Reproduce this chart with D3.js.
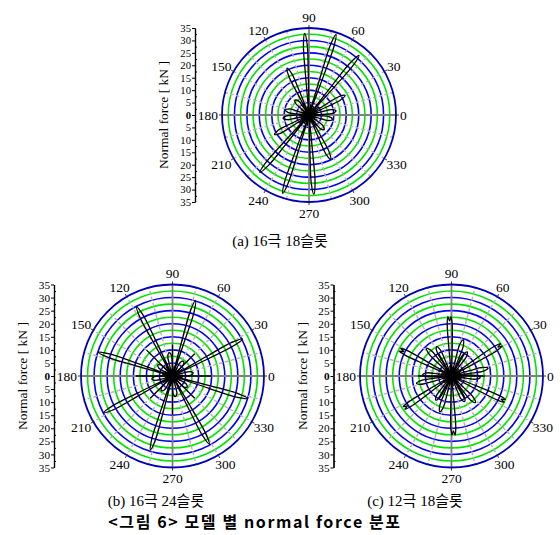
<!DOCTYPE html>
<html>
<head>
<meta charset="utf-8">
<script src="https://cdn.jsdelivr.net/npm/d3@7"></script>
<style>
body { margin: 0; background: #fff; }
svg { display: block; }
</style>
</head>
<body>
<svg id="chart" width="560" height="535"></svg>
<script>
// grid and tick values
var ringVals = [2.5, 5, 7.5, 10, 12.5, 15, 17.5, 20, 22.5, 25, 27.5, 30, 32.5, 35];
var majorTicks = [0, 5, 10, 15, 20, 25, 30, 35];
var minorTicks = [2.5, 7.5, 12.5, 17.5, 22.5, 27.5, 32.5];
var angleTicks = [0, 30, 60, 90, 120, 150, 180, 210, 240, 270, 300, 330];

// (a) 16극 18슬롯 : lobe angle [deg], normal force [kN]
var lobeAngA = [8.5, 28.5, 50, 71.5, 93, 115, 133, 168, 187, 209.5, 229.5, 251.5, 273.5, 296, 316, 349.5];
var lobeValA = [11, 16.5, 31.3, 34.2, 32.9, 20.8, 8.2, 9.7, 10.5, 15.9, 30.4, 33.3, 32, 19.8, 8.4, 9.6];
var hubAngA = [0, 15, 40, 60, 80, 100, 125, 145, 160, 180, 195, 220, 240, 260, 285, 305, 325, 340];
var hubValA = [4, 3.5, 5, 4, 4.5, 3.5, 5, 4, 3.5, 4, 3.5, 5, 4, 4.5, 3.5, 5, 4, 3.5];

// (b) 16극 24슬롯
var lobeAngB = [27.9, 73, 117.4, 162.3, 208.1, 253.4, 298.4, 343.4];
var lobeValB = [30.3, 30.1, 29.9, 29.8, 29.8, 29.5, 29.6, 29.9];
var smallAngB = [8, 53, 98, 143, 188, 233, 278, 323];
var smallValB = [8, 7, 9, 7, 8, 7, 8, 7];
var spikeAngB = [0, 45, 90, 135, 180, 225, 270, 315];
var spikeValB = [15, 12, 12, 14, 14, 12, 15, 12];
var hubAngB = [5, 20, 35, 60, 80, 105, 125, 150, 170, 195, 215, 240, 260, 285, 300, 330, 350];
var hubValB = [4, 3, 4.5, 3.5, 4, 3, 4.5, 3.5, 4, 3, 4.5, 3.5, 4, 3, 4.5, 3.5, 4];

// (c) 12극 18슬롯
var lobeAngC = [32, 92, 153, 214, 272, 335];
var lobeValC = [22.5, 22.7, 22.1, 21.9, 22.6, 22.5];
var midAngC = [12, 72, 132, 192, 252, 312];
var midValC = [14.3, 14.5, 14.3, 13.7, 14.4, 13.7];
var mid2AngC = [57, 117, 177, 237, 297, 357];
var mid2ValC = [11, 12.6, 11, 11, 11, 11];
var spikeAngC = [0, 60, 120, 180, 240, 300];
var spikeValC = [12.7, 10, 10, 12.8, 10, 10];
var hubAngC = [10, 25, 45, 85, 100, 140, 165, 200, 220, 260, 280, 320, 345];
var hubValC = [4, 3.5, 4, 3.5, 4, 3.5, 4, 3.5, 4, 3.5, 4, 3.5, 4];

var serif = "'Liberation Serif', 'Times New Roman', serif";
var krSerif = "'Liberation Serif', 'Noto Sans CJK KR', serif";

var svg = d3.select("#chart");

var line = d3.line().curve(d3.curveCatmullRom.alpha(0.5));

function drawPanel(p) {
    var g = svg.append("g").attr("transform", "translate(" + p.cx + "," + p.cy + ")");
    var r = d3.scaleLinear().domain([0, 35]).range([0, p.R]);

    function xy(a, v) {
        var t = a * Math.PI / 180;
        return [Math.cos(t) * r(v), -Math.sin(t) * r(v)];
    }

    // rings
    g.selectAll("circle.ring")
        .data(ringVals.slice(0, -1))
        .enter().append("circle")
        .attr("r", function(d){ return r(d); })
        .attr("fill", "none")
        .attr("stroke", function(d){ return d % 5 === 0 ? "#0000f0" : "#00e600"; })
        .attr("stroke-width", 1.6);

    // spokes
    g.selectAll("line.spoke")
        .data(d3.range(0, 360, 15))
        .enter().append("line")
        .attr("x1", 0).attr("y1", 0)
        .attr("x2", function(d){ return xy(d, 35)[0]; })
        .attr("y2", function(d){ return xy(d, 35)[1]; })
        .attr("stroke", function(d){ return d % 90 === 0 ? "#808080" : "#b4b4b4"; })
        .attr("stroke-width", function(d){ return d % 90 === 0 ? 1.8 : 1.4; })
        .attr("stroke-dasharray", function(d){ return d % 90 === 0 ? null : "4,2"; });

    // outer circle
    g.append("circle")
        .attr("r", r(35))
        .attr("fill", "none")
        .attr("stroke", "#0000b4")
        .attr("stroke-width", 1.8);

    // outer ticks + angle labels
    g.selectAll("line.atick")
        .data(angleTicks)
        .enter().append("line")
        .attr("x1", function(d){ return xy(d, 35)[0]; })
        .attr("y1", function(d){ return xy(d, 35)[1]; })
        .attr("x2", function(d){ var t = d * Math.PI / 180; return Math.cos(t) * (p.R + 3); })
        .attr("y2", function(d){ var t = d * Math.PI / 180; return -Math.sin(t) * (p.R + 3); })
        .attr("stroke", "#333");

    g.selectAll("text.alab")
        .data(angleTicks)
        .enter().append("text")
        .style("font-family", serif)
        .attr("font-size", 13.5)
        .attr("text-anchor", "middle")
        .attr("dy", "0.35em")
        .text(function(d){ return d; })
        .each(function(d){
            var t = d * Math.PI / 180;
            var hw = this.getComputedTextLength() / 2;
            var x = Math.cos(t) * (p.R + 4) + Math.cos(t) * hw;
            var y = -Math.sin(t) * (p.R + 4) - Math.sin(t) * 7;
            d3.select(this).attr("x", x).attr("y", y);
        });

    // data
    var w = 1.9;
    function lobe(a, v, notch) {
        var t = a * Math.PI / 180, rp = r(v);
        var ux = Math.cos(t), uy = -Math.sin(t), nx = -uy, ny = ux;
        var pts = notch
            ? [[0,0],[0.5*rp,0.9*w],[0.88*rp,1.3*w],[rp,0.8*w],[0.93*rp,0],[rp,-0.8*w],[0.88*rp,-1.3*w],[0.5*rp,-0.9*w],[0,0]]
            : [[0,0],[0.5*rp,0.75*w],[0.86*rp,w],[rp,0],[0.86*rp,-w],[0.5*rp,-0.75*w],[0,0]];
        return line(pts.map(function(q){ return [ux*q[0] + nx*q[1], uy*q[0] + ny*q[1]]; }));
    }

    var dg = g.append("g").attr("fill", "none").attr("stroke", "#000").attr("stroke-width", 1.3);
    p.lobes.forEach(function(set){
        dg.selectAll(null)
            .data(d3.zip(set.ang, set.val))
            .enter().append("path")
            .attr("d", function(d){ return lobe(d[0], d[1], set.notch); });
    });
    p.spikes.forEach(function(set){
        dg.selectAll(null)
            .data(d3.zip(set.ang, set.val))
            .enter().append("line")
            .attr("x1", 0).attr("y1", 0)
            .attr("x2", function(d){ return xy(d[0], d[1])[0]; })
            .attr("y2", function(d){ return xy(d[0], d[1])[1]; });
    });
    dg.append("circle").attr("r", r(2.2)).attr("fill", "#000");

    // radial axis on the left
    var ax = svg.append("g").attr("transform", "translate(" + p.axisX + ",0)");
    var up = d3.scaleLinear().domain([0, 35]).range([p.cy, p.cy - p.R]);
    var dn = d3.scaleLinear().domain([0, 35]).range([p.cy, p.cy + p.R]);
    ax.append("g").call(d3.axisLeft(up).tickValues(majorTicks).tickSize(3).tickSizeOuter(0).tickPadding(1));
    ax.append("g").call(d3.axisLeft(dn).tickValues(majorTicks.slice(1)).tickSize(3).tickSizeOuter(0).tickPadding(1));
    ax.append("g").call(d3.axisRight(up).tickValues(minorTicks).tickSize(2).tickSizeOuter(0).tickFormat(""));
    ax.append("g").call(d3.axisRight(dn).tickValues(minorTicks).tickSize(2).tickSizeOuter(0).tickFormat(""));
    ax.selectAll("path.domain").attr("stroke", "#000").attr("stroke-width", 1.2);
    var step = p.R / 7;
    ax.selectAll("text")
        .style("font-family", serif)
        .style("font-size", Math.min(11.5, step * 0.86) + "px")
        .style("font-weight", function(d){ return d === 0 ? "bold" : "normal"; });

    svg.append("text")
        .style("font-family", serif)
        .attr("font-size", 13.5)
        .attr("text-anchor", "middle")
        .attr("transform", "translate(" + p.labelX + "," + p.cy + ") rotate(-90)")
        .attr("dy", "0.35em")
        .text("Normal force [ kN ]");
}

drawPanel({ cx: 309, cy: 115, R: 87, axisX: 195, labelX: 163,
    lobes: [{ ang: lobeAngA, val: lobeValA }],
    spikes: [{ ang: hubAngA, val: hubValA }] });

drawPanel({ cx: 172.5, cy: 376, R: 91.5, axisX: 54, labelX: 22,
    lobes: [{ ang: lobeAngB, val: lobeValB }, { ang: smallAngB, val: smallValB }],
    spikes: [{ ang: spikeAngB, val: spikeValB }, { ang: hubAngB, val: hubValB }] });

drawPanel({ cx: 451.5, cy: 376, R: 91.5, axisX: 333.5, labelX: 302,
    lobes: [{ ang: lobeAngC, val: lobeValC, notch: true }, { ang: midAngC, val: midValC }, { ang: mid2AngC, val: mid2ValC }],
    spikes: [{ ang: spikeAngC, val: spikeValC }, { ang: hubAngC, val: hubValC }] });

// captions
function caption(x, y, s) {
    svg.append("text").style("font-family", krSerif).attr("font-size", 15).attr("text-anchor", "middle")
        .attr("x", x).attr("y", y).text(s);
}
caption(280, 246, "(a) 16극 18슬롯");
caption(156, 506, "(b) 16극 24슬롯");
caption(415, 506, "(c) 12극 18슬롯");

svg.append("text")
    .style("font-family", "'Noto Sans CJK KR', sans-serif")
    .attr("font-weight", "bold")
    .attr("font-size", 16)
    .attr("letter-spacing", 1.6)
    .attr("text-anchor", "middle")
    .attr("x", 255).attr("y", 528)
    .text("<그림 6> 모델 별 normal force 분포");
</script>
</body>
</html>
